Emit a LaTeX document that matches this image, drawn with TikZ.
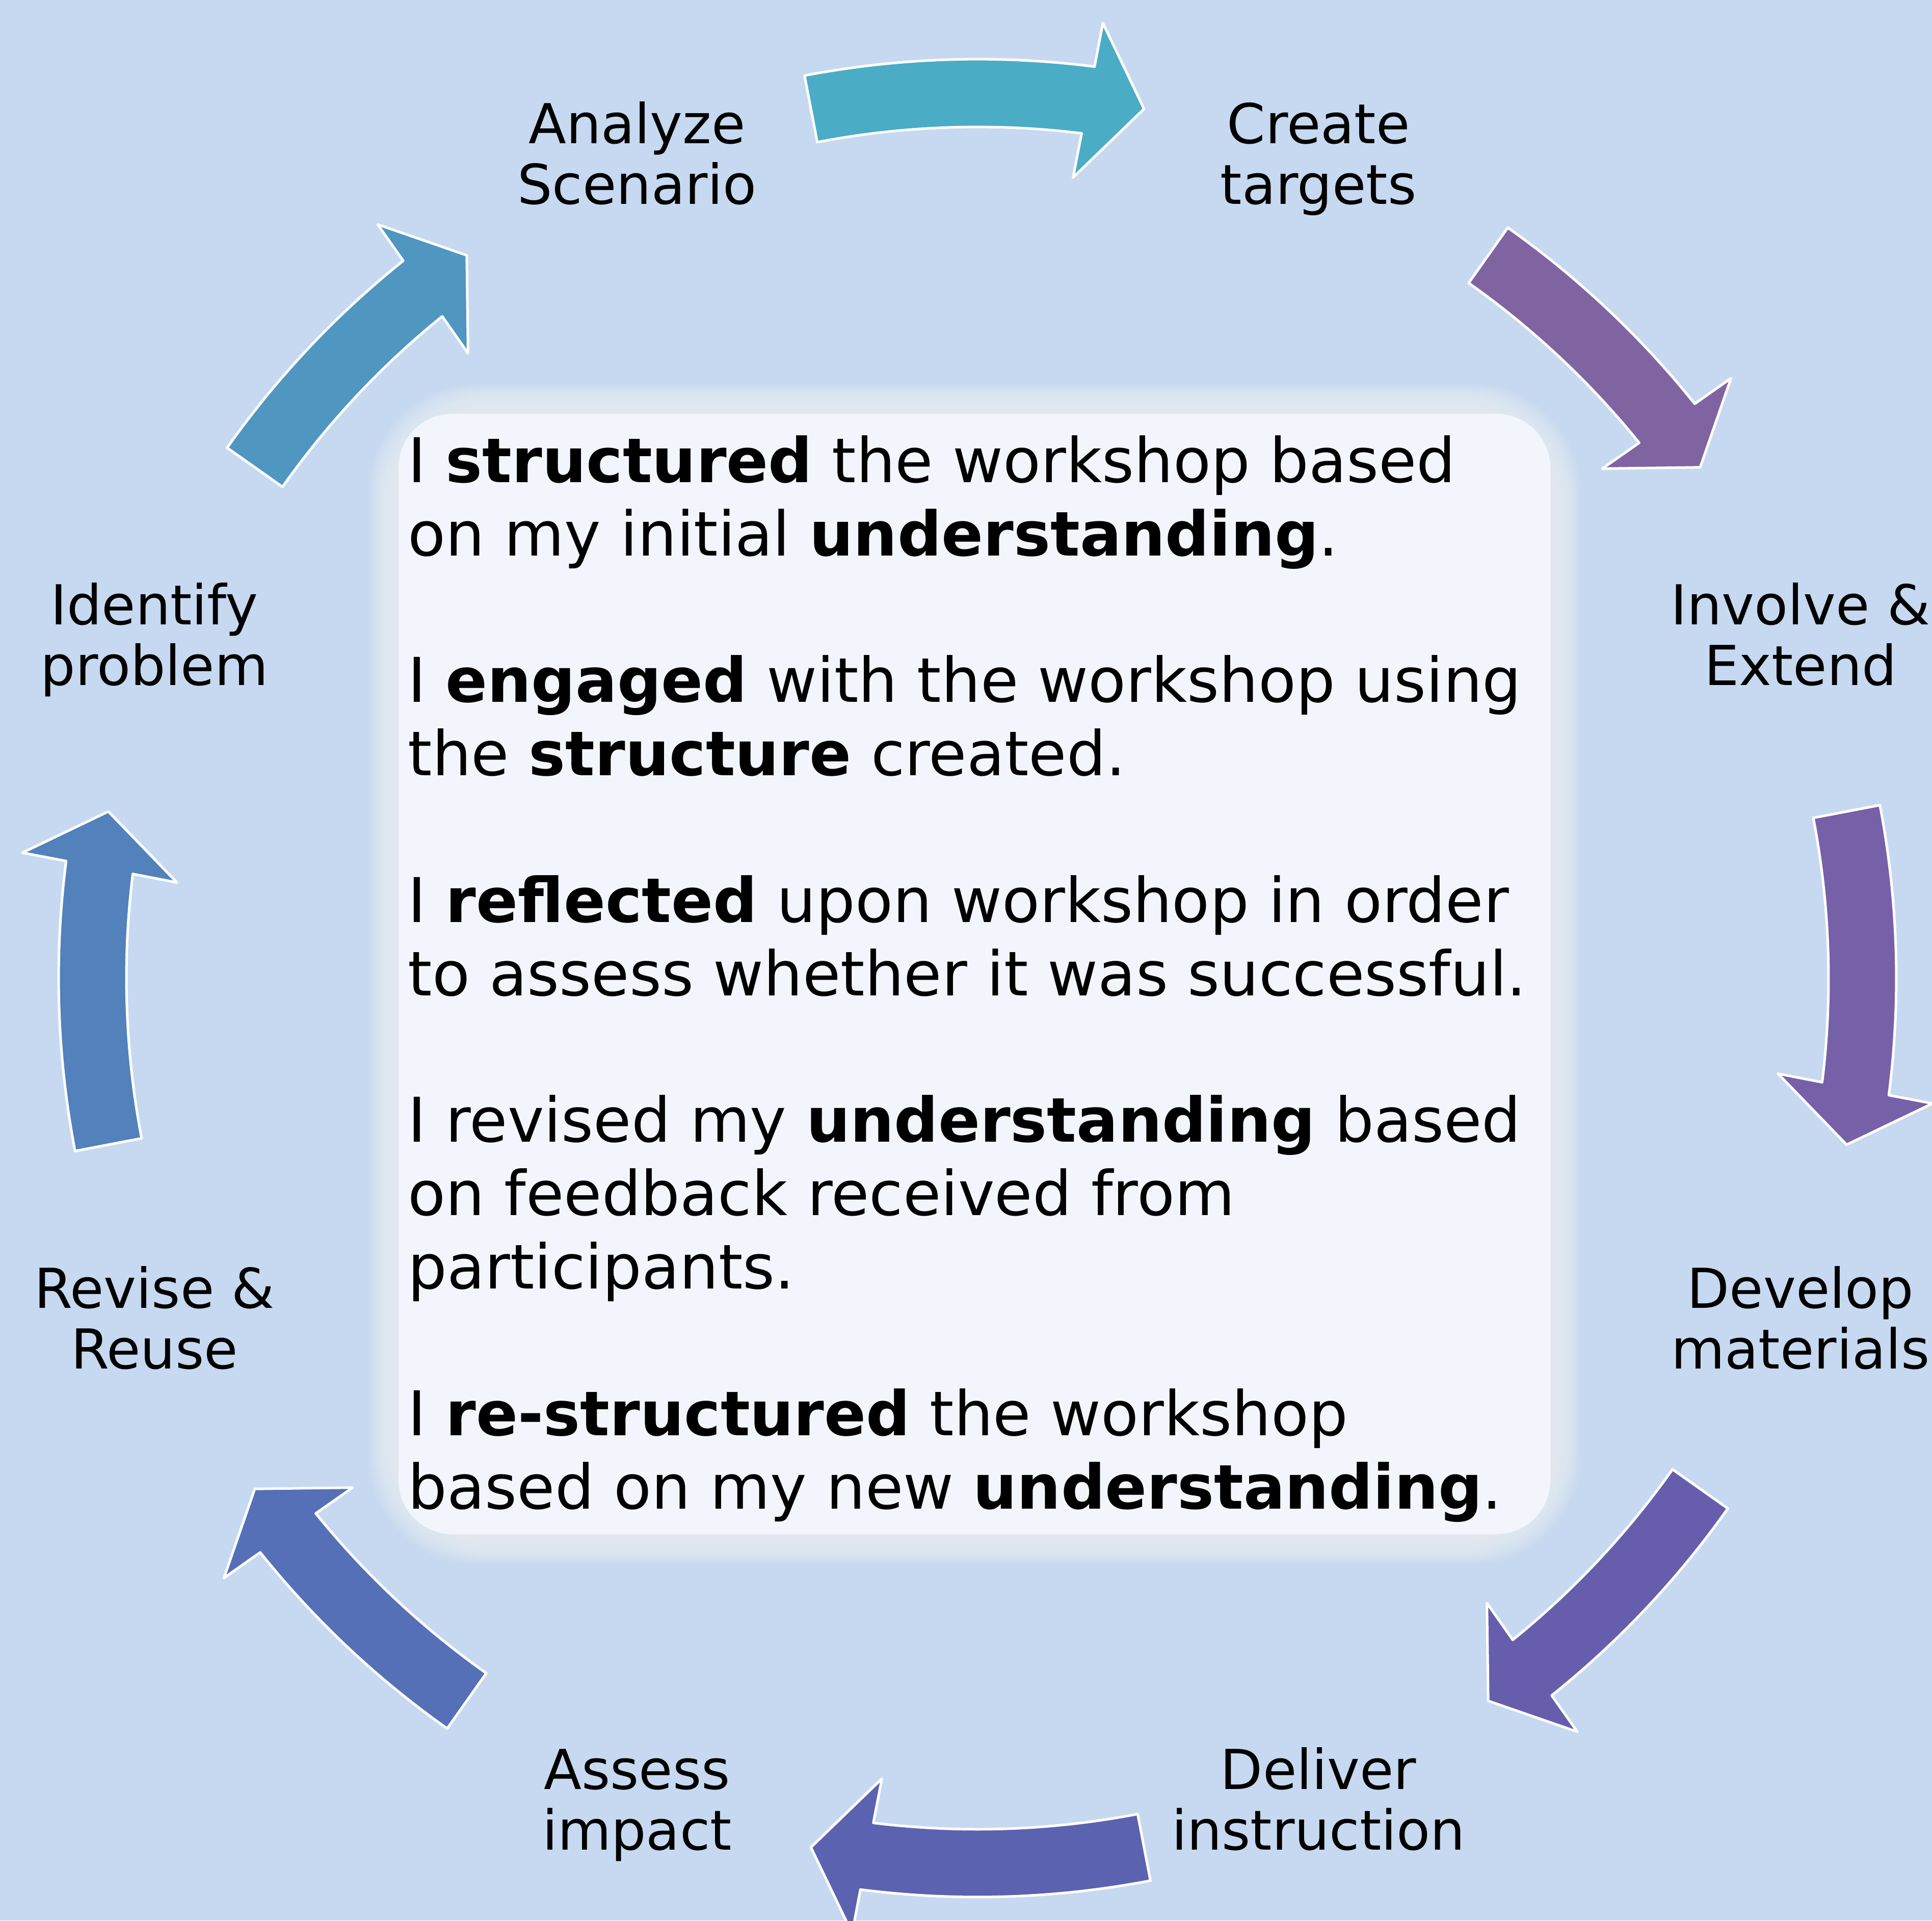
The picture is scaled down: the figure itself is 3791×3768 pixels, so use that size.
\documentclass[tikz,border=0pt]{standalone}
\usepackage{fontspec}
\setmainfont{DejaVu Sans}
\definecolor{bg}{RGB}{198,217,240}
\definecolor{boxc}{RGB}{242,246,252}
\definecolor{ca}{RGB}{75,172,198}
\definecolor{cb}{RGB}{128,100,162}
\definecolor{cc}{RGB}{118,96,167}
\definecolor{cd}{RGB}{102,94,172}
\definecolor{ce}{RGB}{91,98,176}
\definecolor{cf}{RGB}{85,112,182}
\definecolor{cg}{RGB}{82,129,188}
\definecolor{ch}{RGB}{79,150,193}
\tikzset{
  arrowshape/.style={draw=white, line width=0.05cm, line join=round},
  lab/.style={font=\fontsize{30.7}{33.6}\selectfont, align=center, anchor=base, inner sep=0pt, text=black},
  maintext/.style={font=\fontsize{34.4}{40.9}\selectfont, align=left, anchor=base west, inner sep=0pt, text=black},
}
% #1 colour, #2 centre angle, #3 half span (deg), #4 head length (deg)
\newcommand\cycarrow[4]{%
  \pgfmathsetmacro\ta{#2+#3}%
  \pgfmathsetmacro\tp{#2-#3}%
  \pgfmathsetmacro\ae{#2-#3+#4}%
  \pgfmathsetmacro\aso{\ae-0.17}%
  \pgfmathsetmacro\abo{\ae-0.33}%
  \pgfmathsetmacro\abi{\ae+0.34}%
  \pgfmathsetmacro\asi{\ae+0.12}%
  \draw[arrowshape, fill=#1, shift={(1918,-1919)}]
    (\ta:1803) arc[start angle=\ta, end angle=\aso, radius=1803]
    -- (\abo:1890) -- (\tp:1736.5) -- (\abi:1582) -- (\asi:1670)
    arc[start angle=\asi, end angle=\ta, radius=1670] -- cycle;}
\begin{document}
\begin{tikzpicture}[x=0.01cm, y=0.01cm]
\useasboundingbox (0,0) rectangle (3791,-3768);
\fill[bg] (0,0) rectangle (3791,-3768);
% soft-edged central panel
\foreach \i in {0,...,29}{
  \fill[boxc, fill opacity=0.06, rounded corners=60]
    ({752-30+2*\i},{-(782-30+2*\i)}) rectangle ({3072+30-2*\i},{-(3040+30-2*\i)});
}
\fill[boxc, rounded corners=30] (782,-812) rectangle (3042,-3010);
% arrows
\cycarrow{ca}{90}{10.85}{3.7}
\cycarrow{cb}{45}{9.75}{3.6}
\cycarrow{cc}{0}{10.85}{3.7}
\cycarrow{cd}{-45}{9.75}{3.6}
\cycarrow{ce}{-90}{10.85}{3.7}
\cycarrow{cf}{-135}{9.75}{3.6}
\cycarrow{cg}{180}{10.85}{3.7}
\cycarrow{ch}{135}{9.75}{3.6}
% labels (anchor = baseline of last line)
\node[lab] (analyze) at (1250,-400) {Analyze\\Scenario};
\node[lab] (create) at (2587,-400) {Create\\targets};
\node[lab] (involve) at (3533,-1344) {Involve \&\\Extend};
\node[lab] (develop) at (3533,-2685) {Develop\\materials};
\node[lab] (deliver) at (2587,-3629) {Deliver\\instruction};
\node[lab] (assess) at (1250,-3629) {Assess\\impact};
\node[lab] (revise) at (303,-2685) {Revise \&\\Reuse};
\node[lab] (identify) at (303,-1344) {Identify\\problem};
% central text (anchor = baseline of last line)
\node[maintext] (reflection) at (800,-2960) {%
I \textbf{structured} the workshop based\\
on my initial \textbf{understanding}.\\[40.9pt]
I \textbf{engaged} with the workshop using\\
the \textbf{structure} created.\\[40.9pt]
I \textbf{reflected} upon workshop in order\\
to assess whether it was successful.\\[40.9pt]
I revised my \textbf{understanding} based\\
on feedback received from\\
participants.\\[40.9pt]
I \textbf{re-structured} the workshop\\
based on my new \textbf{understanding}.};
\end{tikzpicture}
\end{document}
